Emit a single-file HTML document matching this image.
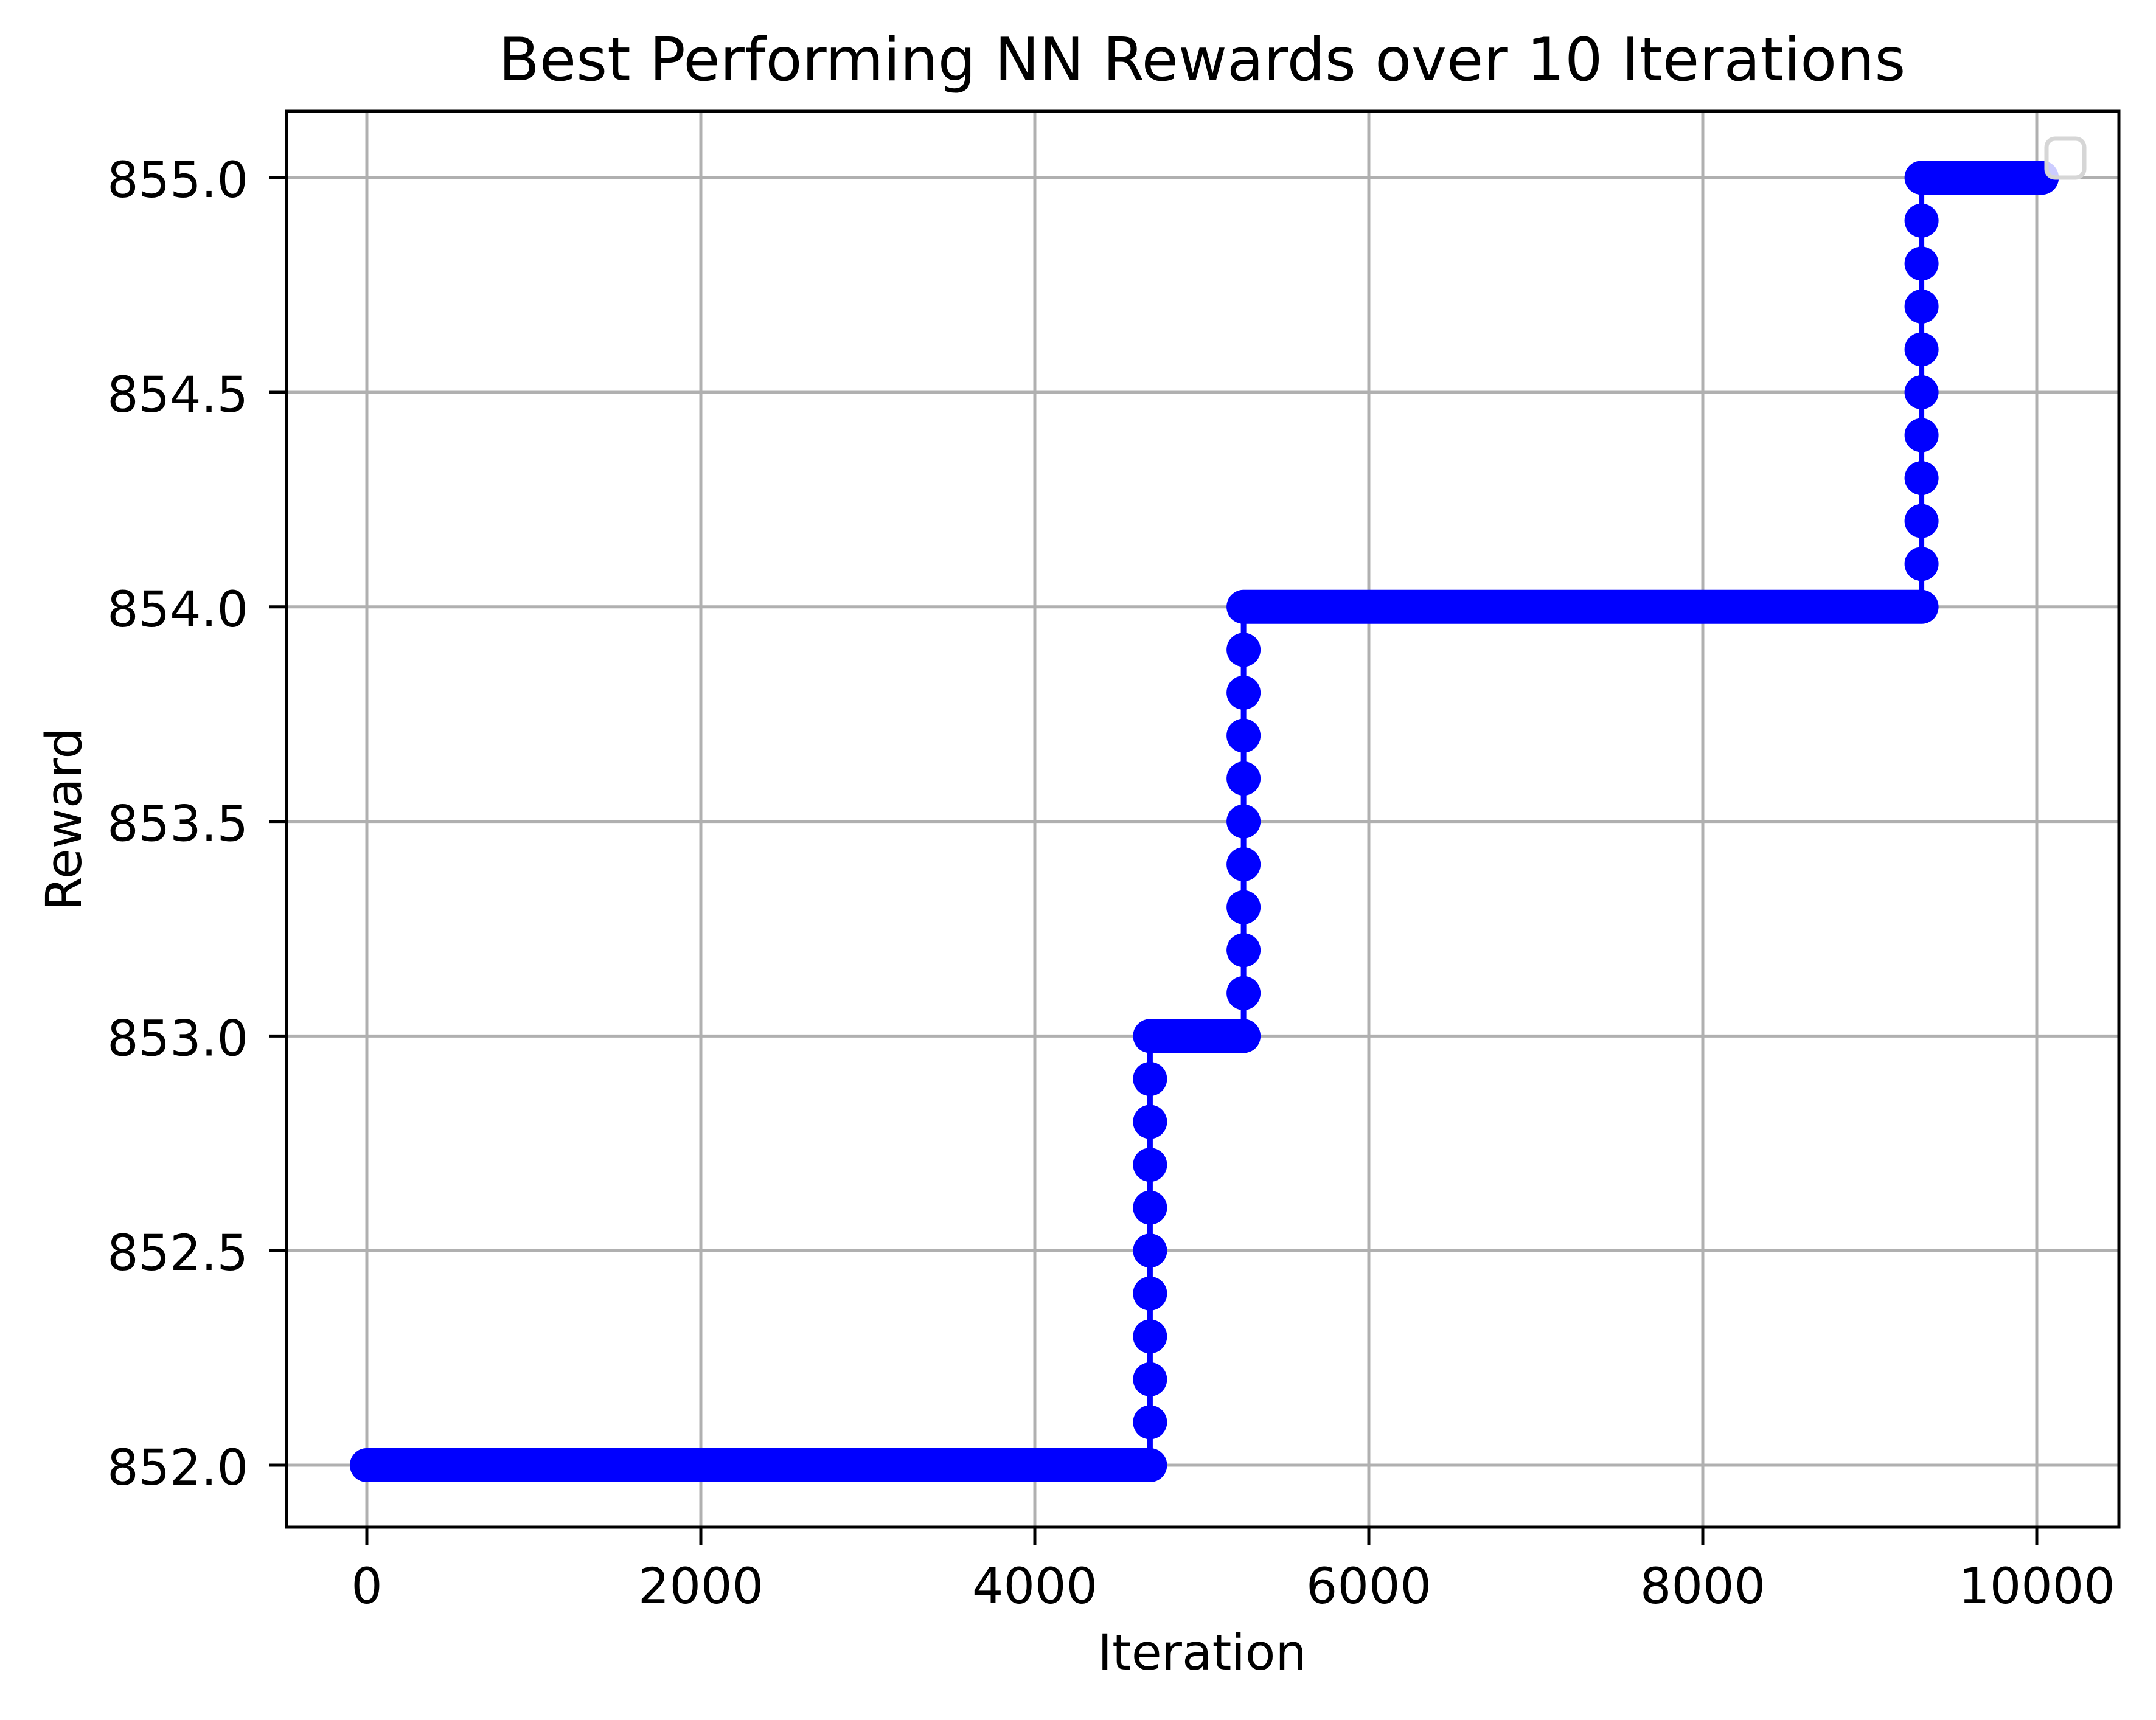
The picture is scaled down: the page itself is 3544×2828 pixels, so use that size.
<!DOCTYPE html>
<html><head><meta charset="utf-8"><style>
html,body{margin:0;padding:0;background:#fff;}
svg{display:block;font-family:"DejaVu Sans","Liberation Sans",sans-serif;}
</style></head><body>
<svg id="chart" width="3544" height="2828" viewBox="0 0 3544 2828" xmlns="http://www.w3.org/2000/svg">
<rect width="3544" height="2828" fill="#fff"/>
<text x="1976" y="132" font-size="98" text-anchor="middle">Best Performing NN Rewards over 10 Iterations</text>
<g id="grid"></g>
<g id="series"></g>
<rect x="471" y="183" width="3012" height="2328" fill="none" stroke="#000" stroke-width="5"/>
<g id="ticks"></g>
<text x="1976" y="2745" font-size="81" text-anchor="middle">Iteration</text>
<text x="0" y="0" font-size="81" text-anchor="middle" transform="translate(133,1347) rotate(-90)">Reward</text>
<rect x="3364" y="228" width="62" height="64" rx="14" fill="#fff" fill-opacity="0.8" stroke="#d6d6d6" stroke-width="7"/>
</svg>
<script>
const xTicks=[0,2000,4000,6000,8000,10000];
const yTicks=[852.0,852.5,853.0,853.5,854.0,854.5,855.0];
const plateauStart=[0,4690,5250,9310];
const plateauEnd=[4690,5250,9310,10030];
const plateauValue=[852,853,854,855];
const jumpValues=[[852.1,852.2,852.3,852.4,852.5,852.6,852.7,852.8,852.9],[853.1,853.2,853.3,853.4,853.5,853.6,853.7,853.8,853.9],[854.1,854.2,854.3,854.4,854.5,854.6,854.7,854.8,854.9]];
const NS='http://www.w3.org/2000/svg';
function sx(v){return 603+(v/2000)*549;}
function sy(v){return 2409-(v-852)/0.5*352.8;}
const grid=document.getElementById('grid'),ticks=document.getElementById('ticks'),ser=document.getElementById('series');
function mk(tag,attrs,parent){const e=document.createElementNS(NS,tag);for(const k in attrs)e.setAttribute(k,attrs[k]);parent.appendChild(e);return e;}
xTicks.forEach(t=>{
 const gl=mk('line',{x1:sx(t),x2:sx(t),y1:183,y2:2511,stroke:'#b0b0b0','stroke-width':5},grid);
 
 
 const tk=mk('line',{x1:sx(t),x2:sx(t),y1:2511,y2:2540,stroke:'#000','stroke-width':5},ticks);
 
 
 const tl=mk('text',{x:sx(t),y:2636,'font-size':81,'text-anchor':'middle'},ticks);
 tl.textContent=String(t);
 
 
});
yTicks.forEach(t=>{
 const gl=mk('line',{x1:471,x2:3483,y1:sy(t),y2:sy(t),stroke:'#b0b0b0','stroke-width':5},grid);
 
 
 const tk=mk('line',{x1:442,x2:471,y1:sy(t),y2:sy(t),stroke:'#000','stroke-width':5},ticks);
 
 
 const tl=mk('text',{x:408,y:sy(t)+32,'font-size':81,'text-anchor':'end'},ticks);
 tl.textContent=t.toFixed(1);
 
 
});
let d='';
plateauValue.forEach((v,i)=>{
 d+=(i===0?'M':'L')+sx(plateauStart[i])+' '+sy(v)+' L'+sx(plateauEnd[i])+' '+sy(v);
 if(i<jumpValues.length){jumpValues[i].forEach(j=>{d+=' L'+sx(plateauEnd[i])+' '+sy(j);});}
});
const ln=mk('path',{d:d,fill:'none',stroke:'#0000ff','stroke-width':9},ser);


plateauValue.forEach((v,i)=>{
 const band=mk('line',{x1:sx(plateauStart[i]),x2:sx(plateauEnd[i]),y1:sy(v),y2:sy(v),stroke:'#0000ff','stroke-width':56,'stroke-linecap':'round'},ser);
 
 
});
jumpValues.forEach((arr,i)=>{
 arr.forEach(j=>{
  const c=mk('circle',{cx:sx(plateauEnd[i]),cy:sy(j),r:28,fill:'#0000ff'},ser);
  
  
 });
});
</script>
</body></html>
